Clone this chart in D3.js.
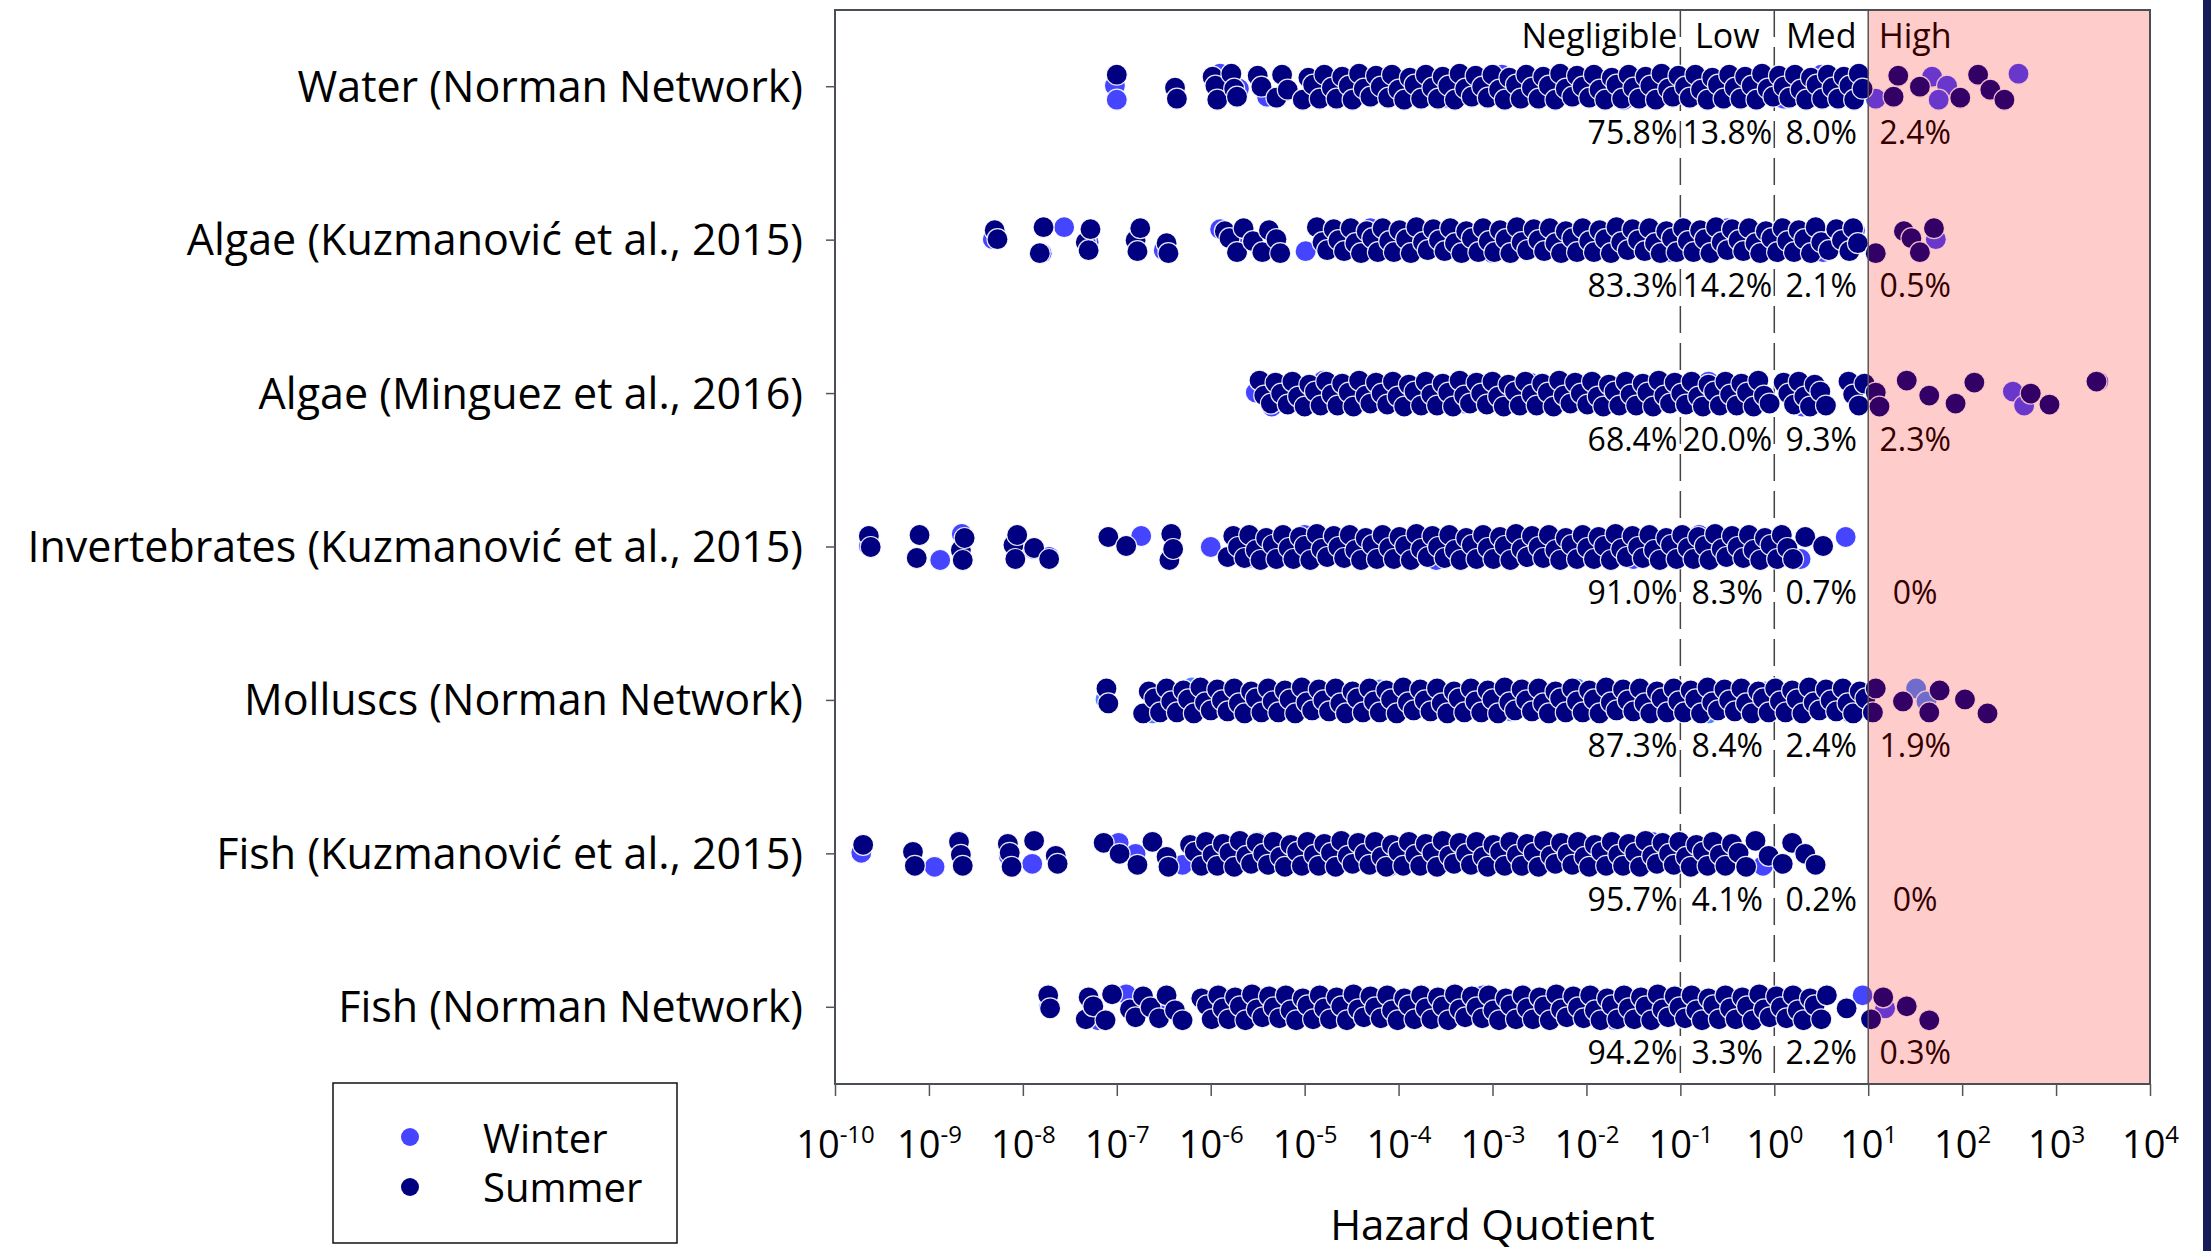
<!DOCTYPE html>
<html>
<head>
<meta charset="utf-8">
<script src="https://cdn.jsdelivr.net/npm/d3@7"></script>
<style>
  body { margin: 0; background: #fff; }
  svg { display: block; }
  text { font-family: "Open Sans", "DejaVu Sans", sans-serif; fill: #000; }
</style>
</head>
<body>
<svg id="chart" width="2211" height="1251"></svg>
<script>
// ---- data -------------------------------------------------------------
const categories = [
  "Water (Norman Network)",
  "Algae (Kuzmanović et al., 2015)",
  "Algae (Minguez et al., 2016)",
  "Invertebrates (Kuzmanović et al., 2015)",
  "Molluscs (Norman Network)",
  "Fish (Kuzmanović et al., 2015)",
  "Fish (Norman Network)"
];

const zoneNames = ["Negligible", "Low", "Med", "High"];
const zoneThresholds = [0.1, 1, 10];

// share of hazard quotients per risk class, per category (%)
const pctNegligible = [75.8, 83.3, 68.4, 91.0, 87.3, 95.7, 94.2];
const pctLow        = [13.8, 14.2, 20.0, 8.3, 8.4, 4.1, 3.3];
const pctMed        = [8.0, 2.1, 9.3, 0.7, 2.4, 0.2, 2.2];
const pctHigh       = [2.4, 0.5, 2.3, 0, 1.9, 0, 0.3];

const tickExponents = [-10, -9, -8, -7, -6, -5, -4, -3, -2, -1, 0, 1, 2, 3, 4];

// log10(HQ) per sample, by category and season
const waterSummer = [-7.0,-6.38,-6.36,-5.98,-5.95,-5.93,-5.78,-5.75,-5.72,-5.5,-5.46,-5.3,-5.24,-5.18,
  -5.02,-4.96,-4.91,-4.84,-4.79,-4.71,-4.66,-4.6,-4.53,-4.49,-4.42,-4.37,-4.3,-4.24,-4.19,-4.11,-4.07,-4.0,
  -3.94,-3.88,-3.83,-3.76,-3.71,-3.64,-3.58,-3.53,-3.47,-3.4,-3.35,-3.29,-3.22,-3.18,-3.11,-3.05,-3.0,
  -2.93,-2.87,-2.82,-2.75,-2.7,-2.64,-2.58,-2.51,-2.46,-2.4,-2.33,-2.28,-2.22,-2.15,-2.1,-2.04,-1.97,
  -1.92,-1.86,-1.8,-1.73,-1.68,-1.62,-1.55,-1.5,-1.44,-1.37,-1.32,-1.26,-1.2,-1.13,-1.08,-1.02,-0.95,
  -0.9,-0.84,-0.78,-0.71,-0.66,-0.6,-0.54,-0.48,-0.42,-0.36,-0.31,-0.24,-0.19,-0.13,-0.07,-0.01,0.05,
  0.1,0.16,0.22,0.28,0.34,0.39,0.45,0.51,0.57,0.62,0.68,0.74,0.8,0.85,0.9,0.94,
  1.27,1.32,1.55,1.98,2.17,2.3,2.45];
const waterWinter = [-7.02,-7.0,-5.9,-5.7,-5.4,-4.8,-4.2,-3.5,-2.9,-2.2,-1.6,-1.0,-0.4,0.1,0.5,0.85,
  1.08,1.68,1.84,1.75,2.6];

const algaeKSummer = [-8.3,-8.27,-7.82,-7.78,-7.33,-7.3,-7.28,-6.8,-6.78,-6.75,-6.47,-6.45,-5.85,-5.8,
  -5.72,-5.65,-5.55,-5.45,-5.38,-5.3,-5.26,
  -4.87,-4.81,-4.76,-4.69,-4.64,-4.58,-4.51,-4.46,-4.4,-4.34,-4.28,-4.22,-4.17,-4.1,-4.05,-3.99,-3.92,
  -3.87,-3.81,-3.74,-3.69,-3.63,-3.57,-3.51,-3.45,-3.4,-3.33,-3.28,-3.22,-3.15,-3.1,-3.04,-2.98,-2.92,
  -2.86,-2.81,-2.74,-2.69,-2.63,-2.56,-2.51,-2.45,-2.39,-2.33,-2.27,-2.22,-2.15,-2.1,-2.04,-1.97,-1.92,
  -1.86,-1.8,-1.74,-1.68,-1.63,-1.56,-1.51,-1.45,-1.38,-1.33,-1.27,-1.21,-1.15,-1.09,-1.04,-0.97,-0.92,
  -0.86,-0.79,-0.74,-0.68,-0.62,-0.56,-0.5,-0.45,-0.38,-0.33,-0.27,-0.2,-0.15,-0.09,-0.03,0.03,0.09,
  0.14,0.21,0.26,0.32,0.39,0.44,0.5,0.58,0.66,0.72,0.8,0.84,0.89,
  1.08,1.38,1.46,1.55,1.7];
const algaeKWinter = [-8.32,-7.8,-7.56,-7.3,-6.5,-5.9,-5.7,-4.99,-4.3,-3.6,-3.0,-2.4,-1.7,-1.1,-0.5,
  0.1,0.52,0.86,1.72];

const algaeMSummer = [-5.48,-5.43,-5.36,-5.31,-5.25,-5.18,-5.13,-5.07,-5.0,-4.95,-4.89,-4.83,-4.77,
  -4.71,-4.65,-4.6,-4.53,-4.48,-4.42,-4.35,-4.3,-4.24,-4.18,-4.12,-4.06,-4.01,-3.94,-3.89,-3.83,-3.76,
  -3.71,-3.65,-3.59,-3.53,-3.47,-3.42,-3.35,-3.3,-3.24,-3.17,-3.12,-3.06,-3.0,-2.94,-2.88,-2.83,-2.76,
  -2.71,-2.65,-2.58,-2.53,-2.47,-2.41,-2.35,-2.29,-2.24,-2.17,-2.12,-2.06,-1.99,-1.94,-1.88,-1.82,
  -1.76,-1.7,-1.65,-1.58,-1.53,-1.47,-1.4,-1.35,-1.29,-1.23,-1.17,-1.11,-1.06,-0.99,-0.94,-0.88,-0.81,
  -0.76,-0.7,-0.64,-0.58,-0.52,-0.47,-0.4,-0.35,-0.29,-0.22,-0.17,-0.11,-0.05,0.1,0.15,0.21,0.26,0.32,
  0.38,0.43,0.49,0.55,0.79,0.84,0.9,0.96,
  1.08,1.12,1.41,1.65,1.93,2.13,2.73,2.93,3.43];
const algaeMWinter = [-5.52,-5.35,-4.8,-4.0,-3.3,-2.6,-1.9,-1.3,-0.7,-0.2,0.3,0.85,2.54,2.66,3.45];

const invertSummer = [-9.64,-9.62,-9.13,-9.1,-8.66,-8.64,-8.62,-8.1,-8.08,-8.06,-7.88,-7.72,-7.09,-6.9,
  -6.44,-6.42,-6.4,
  -5.82,-5.76,-5.71,-5.64,-5.59,-5.52,-5.47,-5.41,-5.34,-5.3,-5.23,-5.17,-5.12,-5.05,-5.0,-4.94,-4.87,
  -4.82,-4.76,-4.69,-4.64,-4.58,-4.52,-4.46,-4.4,-4.35,-4.28,-4.23,-4.17,-4.1,-4.05,-3.99,-3.93,-3.87,
  -3.81,-3.76,-3.69,-3.64,-3.58,-3.51,-3.46,-3.4,-3.34,-3.28,-3.22,-3.17,-3.1,-3.05,-2.99,-2.92,-2.87,
  -2.81,-2.75,-2.69,-2.63,-2.58,-2.51,-2.46,-2.4,-2.33,-2.28,-2.22,-2.16,-2.1,-2.04,-1.99,-1.92,-1.87,
  -1.81,-1.74,-1.69,-1.63,-1.57,-1.51,-1.45,-1.4,-1.33,-1.28,-1.22,-1.15,-1.1,-1.04,-0.98,-0.92,-0.86,
  -0.81,-0.74,-0.69,-0.63,-0.56,-0.51,-0.45,-0.39,-0.33,-0.27,-0.22,-0.15,-0.1,-0.04,0.03,0.08,0.14,0.2,
  0.33,0.52];
const invertWinter = [-9.64,-8.88,-8.65,-7.89,-7.72,-6.74,-6.0,-5.6,-5.0,-4.3,-3.6,-2.9,-2.2,-1.5,-0.8,
  -0.2,0.28,0.76];

const molluscSummer = [-7.11,-7.09,
  -6.72,-6.66,-6.6,-6.54,-6.47,-6.42,-6.36,-6.29,-6.24,-6.18,-6.11,-6.06,-6.0,-5.93,-5.88,-5.82,-5.75,
  -5.7,-5.64,-5.57,-5.52,-5.46,-5.39,-5.34,-5.28,-5.21,-5.16,-5.1,-5.03,-4.98,-4.92,-4.85,-4.8,-4.74,
  -4.67,-4.62,-4.56,-4.49,-4.44,-4.38,-4.31,-4.26,-4.2,-4.13,-4.08,-4.02,-3.95,-3.9,-3.84,-3.77,-3.72,
  -3.66,-3.59,-3.54,-3.48,-3.41,-3.36,-3.3,-3.23,-3.18,-3.12,-3.05,-3.0,-2.94,-2.87,-2.82,-2.76,-2.69,
  -2.64,-2.58,-2.51,-2.46,-2.4,-2.33,-2.28,-2.22,-2.15,-2.1,-2.04,-1.97,-1.92,-1.86,-1.79,-1.74,-1.68,
  -1.61,-1.56,-1.5,-1.43,-1.38,-1.32,-1.25,-1.2,-1.14,-1.07,-1.02,-0.96,-0.89,-0.84,-0.78,-0.71,-0.66,
  -0.6,-0.53,-0.48,-0.42,-0.35,-0.3,-0.24,-0.17,-0.12,-0.06,0.01,0.06,0.12,0.19,0.24,0.3,0.37,0.42,0.48,
  0.55,0.6,0.66,0.73,0.78,0.84,0.91,0.97,
  1.05,1.08,1.37,1.65,1.76,2.03,2.27];
const molluscWinter = [-7.12,-6.62,-6.2,-5.6,-4.9,-4.2,-3.5,-2.8,-2.1,-1.4,-0.7,-0.1,0.4,0.8,1.51,1.62];

const fishKSummer = [-9.7,-9.17,-9.15,-8.68,-8.66,-8.64,-8.16,-8.14,-8.12,-7.88,-7.65,-7.63,-7.14,-6.97,
  -6.78,-6.62,-6.47,-6.45,
  -6.22,-6.17,-6.1,-6.05,-5.98,-5.93,-5.87,-5.8,-5.75,-5.69,-5.62,-5.57,-5.51,-5.44,-5.39,-5.33,-5.26,
  -5.21,-5.15,-5.08,-5.03,-4.97,-4.9,-4.85,-4.79,-4.72,-4.67,-4.61,-4.54,-4.49,-4.43,-4.36,-4.31,-4.25,
  -4.18,-4.13,-4.07,-4.0,-3.95,-3.89,-3.82,-3.77,-3.71,-3.64,-3.59,-3.53,-3.46,-3.41,-3.35,-3.28,-3.23,
  -3.17,-3.1,-3.05,-2.99,-2.92,-2.87,-2.81,-2.74,-2.69,-2.63,-2.56,-2.51,-2.45,-2.38,-2.33,-2.27,-2.2,
  -2.15,-2.09,-2.02,-1.97,-1.91,-1.84,-1.79,-1.73,-1.66,-1.61,-1.55,-1.48,-1.43,-1.37,-1.3,-1.25,-1.19,
  -1.12,-1.07,-1.01,-0.94,-0.89,-0.83,-0.76,-0.71,-0.65,-0.58,-0.52,-0.45,-0.38,-0.3,-0.2,-0.06,0.09,
  0.19,0.33,0.44];
const fishKWinter = [-9.72,-8.94,-8.68,-8.15,-7.9,-6.98,-6.8,-6.3,-5.5,-4.8,-4.1,-3.4,-2.7,-2.0,-1.3,
  -0.6,-0.12];

const fishNSummer = [-7.73,-7.71,-7.33,-7.3,-7.25,-7.12,-7.05,-6.86,-6.8,-6.72,-6.64,-6.55,-6.47,-6.38,
  -6.3,
  -6.1,-6.04,-5.99,-5.92,-5.87,-5.81,-5.74,-5.69,-5.63,-5.56,-5.51,-5.45,-5.38,-5.33,-5.27,-5.2,-5.15,
  -5.09,-5.02,-4.97,-4.91,-4.84,-4.79,-4.73,-4.66,-4.61,-4.55,-4.48,-4.43,-4.37,-4.3,-4.25,-4.19,-4.12,
  -4.07,-4.01,-3.94,-3.89,-3.83,-3.76,-3.71,-3.65,-3.58,-3.53,-3.47,-3.4,-3.35,-3.29,-3.22,-3.17,-3.11,
  -3.04,-2.99,-2.93,-2.86,-2.81,-2.75,-2.68,-2.63,-2.57,-2.5,-2.45,-2.39,-2.32,-2.27,-2.21,-2.14,-2.09,
  -2.03,-1.96,-1.91,-1.85,-1.78,-1.73,-1.67,-1.6,-1.55,-1.49,-1.42,-1.37,-1.31,-1.24,-1.19,-1.13,-1.06,
  -1.01,-0.95,-0.88,-0.83,-0.77,-0.7,-0.65,-0.59,-0.52,-0.47,-0.41,-0.34,-0.29,-0.23,-0.16,-0.11,-0.05,
  0.02,0.07,0.13,0.2,0.25,0.31,0.38,0.43,0.5,0.56,0.77,
  1.03,1.16,1.41,1.65];
const fishNWinter = [-7.72,-7.2,-6.9,-6.5,-5.9,-5.2,-4.5,-3.8,-3.1,-2.4,-1.7,-1.0,-0.3,0.3,0.94,1.18];

const summerSeries = [waterSummer, algaeKSummer, algaeMSummer, invertSummer, molluscSummer, fishKSummer, fishNSummer];
const winterSeries = [waterWinter, algaeKWinter, algaeMWinter, invertWinter, molluscWinter, fishKWinter, fishNWinter];

// ---- styles -----------------------------------------------------------
const summerColor = "#000080";
const winterColor = "#4545ff";
const winterColorByCategory = { "Molluscs (Norman Network)": "#4d88ff" };
const dotRadius = 10.5;
// vertical spread of points inside each category band (three loose rows)
const jitterPattern = [-12, 1, 12, -10, -1, 13, -13, 2, 10, -11, 0, 11, -12, 3, 13, -9, -2, 12];

// ---- layout -----------------------------------------------------------
const svg = d3.select("#chart");
const plot = { left: 835, right: 2150, top: 10, bottom: 1084 };

const x = d3.scaleLog().domain([1e-10, 1e4]).range([plot.left, plot.right]);
const y = d3.scaleBand().domain(categories).range([plot.top, plot.bottom]);
const yc = c => y(c) + y.bandwidth() / 2;

svg.append("rect").attr("width", 2211).attr("height", 1251).attr("fill", "#fff");

// risk class boundaries (dashed)
svg.append("g").selectAll("line")
  .data(zoneThresholds.slice(0, 2))
  .join("line")
  .attr("x1", d => x(d)).attr("x2", d => x(d))
  .attr("y1", plot.top).attr("y2", plot.bottom)
  .attr("stroke", "#444").attr("stroke-width", 1.5)
  .attr("stroke-dasharray", "27,10");

// points: winter first, summer on top
function drawSeason(seriesList, season) {
  const pts = [];
  seriesList.forEach((vals, ci) => {
    const cat = categories[ci];
    vals.forEach((v, i) => pts.push({ cat, hq: Math.pow(10, v), i: season === "winter" ? i + 4 : i + 3 * ci }));
  });
  svg.append("g").attr("class", season).selectAll("circle")
    .data(pts)
    .join("circle")
    .attr("cx", d => x(d.hq))
    .attr("cy", d => yc(d.cat) + jitterPattern[d.i % jitterPattern.length])
    .attr("r", dotRadius)
    .attr("fill", d => season === "summer" ? summerColor : (winterColorByCategory[d.cat] || winterColor))
    .attr("stroke", "#fff")
    .attr("stroke-opacity", 0.9)
    .attr("stroke-width", 1.2);
}
drawSeason(winterSeries, "winter");
drawSeason(summerSeries, "summer");

// risk class names above the first row
const zoneCentres = [null, Math.sqrt(0.1 * 1), Math.sqrt(1 * 10), Math.sqrt(10 * 100)];
const zoneG = svg.append("g").attr("font-size", 34);
zoneNames.forEach((name, k) => {
  zoneG.append("text")
    .attr("x", k === 0 ? x(zoneThresholds[0]) - 3 : x(zoneCentres[k]))
    .attr("y", 48)
    .attr("text-anchor", k === 0 ? "end" : "middle")
    .text(name);
});

// percentage labels under each row
const fmtPct = v => (v === 0 ? "0" : v.toFixed(1)) + "%";
const pctG = svg.append("g").attr("font-size", 32);
categories.forEach((cat, ci) => {
  const vals = [pctNegligible[ci], pctLow[ci], pctMed[ci], pctHigh[ci]];
  vals.forEach((v, k) => {
    pctG.append("text")
      .attr("x", k === 0 ? x(zoneThresholds[0]) - 3 : x(zoneCentres[k]))
      .attr("y", yc(cat) + 57)
      .attr("text-anchor", k === 0 ? "end" : "middle")
      .text(fmtPct(v));
  });
});

// translucent red band for the high-risk class
svg.append("rect")
  .attr("x", x(zoneThresholds[2])).attr("y", plot.top)
  .attr("width", x(1e4) - x(zoneThresholds[2]))
  .attr("height", plot.bottom - plot.top)
  .attr("fill", "rgba(255,0,0,0.2)");
svg.append("line")
  .attr("x1", x(zoneThresholds[2])).attr("x2", x(zoneThresholds[2]))
  .attr("y1", plot.top).attr("y2", plot.bottom)
  .attr("stroke", "#555").attr("stroke-width", 1.5);

// frame
svg.append("rect")
  .attr("x", plot.left).attr("y", plot.top)
  .attr("width", plot.right - plot.left).attr("height", plot.bottom - plot.top)
  .attr("fill", "none").attr("stroke", "#4a4f55").attr("stroke-width", 2);

// x axis
const xAxis = d3.axisBottom(x)
  .tickValues(tickExponents.map(e => Math.pow(10, e)))
  .tickSize(12)
  .tickFormat("");
const gx = svg.append("g").attr("transform", `translate(0,${plot.bottom})`).call(xAxis);
gx.select(".domain").remove();
gx.selectAll(".tick line").attr("stroke", "#555").attr("stroke-width", 1.5);
gx.selectAll(".tick text").remove();
gx.selectAll(".tick").each(function (d, i) {
  const t = d3.select(this).append("text")
    .attr("y", 74)
    .attr("text-anchor", "middle")
    .attr("font-size", 38)
    .attr("fill", "#000");
  t.append("tspan").text("10");
  t.append("tspan").attr("font-size", 24).attr("dy", -15).text(tickExponents[i]);
});

// y axis
const yAxis = d3.axisLeft(y).tickSize(9).tickPadding(23);
const gy = svg.append("g").attr("transform", `translate(${plot.left},0)`).call(yAxis);
gy.select(".domain").remove();
gy.selectAll(".tick line").attr("stroke", "#555").attr("stroke-width", 1.5);
gy.selectAll(".tick text")
  .attr("font-size", 43)
  .attr("font-family", '"Open Sans", sans-serif')
  .attr("fill", "#000")
  .attr("dy", "0.35em");

// axis title
svg.append("text")
  .attr("x", (plot.left + plot.right) / 2).attr("y", 1240)
  .attr("text-anchor", "middle").attr("font-size", 42)
  .text("Hazard Quotient");

// legend
const legend = svg.append("g");
legend.append("rect")
  .attr("x", 333).attr("y", 1083).attr("width", 344).attr("height", 160)
  .attr("fill", "#fff").attr("stroke", "#111").attr("stroke-width", 1.5);
[["Winter", winterColor], ["Summer", summerColor]].forEach(([label, col], k) => {
  legend.append("circle").attr("cx", 410).attr("cy", 1137 + k * 50).attr("r", 9).attr("fill", col);
  legend.append("text").attr("x", 483).attr("y", 1153 + k * 49).attr("font-size", 40).text(label);
});

// page edge stripe
svg.append("rect").attr("x", 2203).attr("y", 0).attr("width", 8).attr("height", 1251).attr("fill", "#161b5c");
</script>
</body>
</html>
